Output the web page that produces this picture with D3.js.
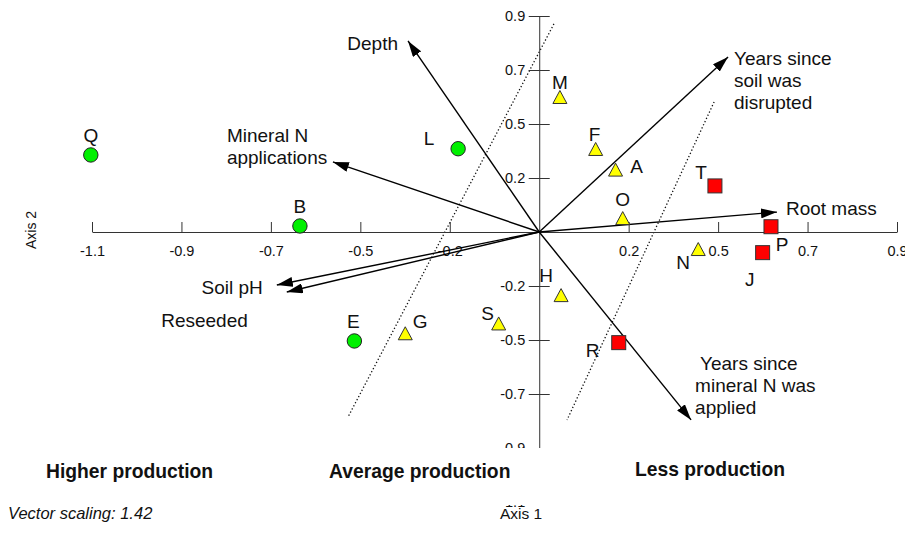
<!DOCTYPE html>
<html><head><meta charset="utf-8">
<script src="https://cdn.jsdelivr.net/npm/d3@7"></script>
<style>
body{margin:0;background:#fff}
svg{display:block}
text{font-family:"Liberation Sans",Arial,Helvetica,sans-serif;fill:#111}
</style>
</head><body>
<svg id="chart" width="905" height="544"></svg>
<script>
// ---------- data ----------
const xTickValues = [-1.125, -0.9, -0.675, -0.45, -0.225, 0.225, 0.45, 0.675, 0.9];
const xTickLabels = ["-1.1", "-0.9", "-0.7", "-0.5", "-0.2", "0.2", "0.5", "0.7", "0.9"];
const yTickValues = [0.9, 0.675, 0.45, 0.225, -0.225, -0.45, -0.675, -0.9, -1.125];
const yTickLabels = ["0.9", "0.7", "0.5", "0.2", "-0.2", "-0.5", "-0.7", "-0.9", "-1.1"];

const siteNames  = ["Q", "B", "L", "E", "M", "F", "A", "O", "N", "G", "S", "H", "T", "P", "J", "R"];
const siteGroups = ["higher", "higher", "higher", "higher",
                    "average", "average", "average", "average", "average", "average", "average", "average",
                    "less", "less", "less", "less"];
const siteAxis1  = [-1.128, -0.602, -0.204, -0.465, 0.052, 0.142, 0.192, 0.210, 0.400, -0.337, -0.102, 0.055, 0.442, 0.583, 0.562, 0.200];
const siteAxis2  = [0.321, 0.025, 0.347, -0.454, 0.5625, 0.346, 0.260, 0.058, -0.071, -0.422, -0.381, -0.263, 0.192, 0.022, -0.086, -0.461];

const vectorNames = ["Depth", "Mineral N applications", "Years since soil was disrupted", "Root mass",
                     "Years since mineral N was applied", "Soil pH", "Reseeded"];
const vectorAxis1 = [-0.330, -0.519, 0.475, 0.598, 0.382, -0.660, -0.635];
const vectorAxis2 = [0.796, 0.292, 0.729, 0.083, -0.783, -0.221, -0.250];

const boundaryStart = [[0.037, 0.867], [0.440, 0.542]];
const boundaryEnd   = [[-0.481, -0.771], [0.070, -0.783]];

const zoneLabels = ["Higher production", "Average production", "Less production"];
const axisTitles = ["Axis 1", "Axis 2"];
const footNote = "Vector scaling: 1.42";

// ---------- layout ----------
const svg = d3.select("#chart");
const x = d3.scaleLinear().domain([-1.125, 0.9]).range([92, 897]);
const y = d3.scaleLinear().domain([-1.125, 0.9]).range([502, 16]);

const siteLabelOffset = {
  Q:[0,-20], B:[0,-20], L:[-29,-10], E:[-1,-20], M:[0,-15], F:[-1,-15], A:[21,-3], O:[0,-19],
  N:[-15,13], G:[15,-12], S:[-11,-10], H:[-15,-20], T:[-14,-14], P:[11,18], J:[-13,27], R:[-26,8]
};
const vectorLabelLayout = [
  {lines:["Depth"], anchor:"end", dx:-10, dy:2},
  {lines:["Mineral N","applications"], anchor:"start", dx:-106, dy:-27},
  {lines:["Years since","soil was","disrupted"], anchor:"start", dx:6, dy:1},
  {lines:["Root mass"], anchor:"start", dx:9, dy:-4},
  {lines:[" Years since","mineral N was","applied"], anchor:"start", dx:4, dy:-57},
  {lines:["Soil pH"], anchor:"end", dx:-14, dy:2},
  {lines:["Reseeded"], anchor:"end", dx:-39, dy:28}
];
const groupStyle = {
  higher:{shape:"circle", fill:"#00f000"},
  average:{shape:"triangle", fill:"#ffff00"},
  less:{shape:"square", fill:"#ff0000"}
};

// boundary dotted lines
svg.append("g").selectAll("line").data(boundaryStart).join("line")
  .attr("x1", d => x(d[0])).attr("y1", d => y(d[1]))
  .attr("x2", (d,i) => x(boundaryEnd[i][0])).attr("y2", (d,i) => y(boundaryEnd[i][1]))
  .attr("stroke", "#111").attr("stroke-width", 1.3).attr("stroke-dasharray", "1.3,2.2");

// axes
const xAxis = d3.axisBottom(x).tickValues(xTickValues)
  .tickFormat((d,i) => xTickLabels[i]).tickSizeInner(-10).tickSizeOuter(0).tickPadding(14);
const gx = svg.append("g").attr("transform", `translate(0,${y(0)})`).call(xAxis);
const yAxis = d3.axisLeft(y).tickValues(yTickValues)
  .tickFormat((d,i) => yTickLabels[i]).tickSizeInner(10.5).tickSizeOuter(0).tickPadding(3.5);
const gy = svg.append("g").attr("transform", `translate(${x(0)},0)`).call(yAxis);
gy.selectAll(".tick line").attr("x1", 10.5);
[gx, gy].forEach(g => {
  g.attr("font-size", null);
  g.select(".domain").attr("stroke", "#333");
  g.selectAll(".tick line").attr("stroke", "#333");
  g.selectAll(".tick text").attr("fill", "#111")
    .style("font-size", "14.5px")
    .style("font-family", '"Liberation Sans",Arial,sans-serif');
});

// vectors
svg.append("defs").append("marker").attr("id", "ah")
  .attr("viewBox", "0 0 16 10").attr("refX", 16).attr("refY", 5)
  .attr("markerWidth", 16).attr("markerHeight", 10)
  .attr("markerUnits", "userSpaceOnUse").attr("orient", "auto")
  .append("path").attr("d", "M0,0L16,5L0,10Z").attr("fill", "#000");
const vg = svg.append("g");
vectorNames.forEach((name, i) => {
  const tx = x(vectorAxis1[i]), ty = y(vectorAxis2[i]);
  vg.append("line").attr("x1", x(0)).attr("y1", y(0)).attr("x2", tx).attr("y2", ty)
    .attr("stroke", "#000").attr("stroke-width", 1.4).attr("marker-end", "url(#ah)");
  const L = vectorLabelLayout[i];
  const t = vg.append("text").attr("text-anchor", L.anchor).attr("font-size", 19)
    .attr("x", tx + L.dx).attr("y", ty + L.dy);
  L.lines.forEach((ln, j) => {
    t.append("tspan").attr("x", tx + L.dx).attr("y", ty + L.dy + j * 22).attr("dy", "0.35em")
      .style("white-space", "pre").text(ln);
  });
});

// sites
const sg = svg.append("g");
siteNames.forEach((name, i) => {
  const cx = x(siteAxis1[i]), cy = y(siteAxis2[i]);
  const st = groupStyle[siteGroups[i]];
  if (st.shape === "circle") {
    sg.append("circle").attr("cx", cx).attr("cy", cy).attr("r", 7.2)
      .attr("fill", st.fill).attr("stroke", "#222").attr("stroke-width", 1);
  } else if (st.shape === "square") {
    sg.append("rect").attr("x", cx - 7).attr("y", cy - 7).attr("width", 14).attr("height", 14)
      .attr("fill", st.fill).attr("stroke", "#333").attr("stroke-width", 1);
  } else {
    sg.append("path").attr("d", `M${cx},${cy - 6.5}L${cx + 7},${cy + 6.5}L${cx - 7},${cy + 6.5}Z`)
      .attr("fill", st.fill).attr("stroke", "#333").attr("stroke-width", 1);
  }
  const o = siteLabelOffset[name];
  sg.append("text").attr("x", cx + o[0]).attr("y", cy + o[1]).attr("dy", "0.35em")
    .attr("text-anchor", "middle").attr("font-size", 19).text(name);
});

// white band over bottom of vertical axis
svg.append("rect").attr("x", 0).attr("y", 448).attr("width", 905).attr("height", 57).attr("fill", "#fff");

// zone labels
const zonePos = [[46, 471], [329, 471], [635, 469]];
svg.append("g").selectAll("text").data(zoneLabels).join("text")
  .attr("x", (d,i) => zonePos[i][0]).attr("y", (d,i) => zonePos[i][1]).attr("dy", "0.35em")
  .attr("font-size", 19.3).attr("font-weight", "bold").text(d => d);

// titles
svg.append("text").attr("x", 521).attr("y", 514).attr("dy", "0.35em").attr("text-anchor", "middle")
  .attr("font-size", 15.5).text(axisTitles[0]);
svg.append("text").attr("transform", "translate(31,230) rotate(-90)").attr("dy", "0.35em")
  .attr("text-anchor", "middle").attr("font-size", 14).text(axisTitles[1]);
svg.append("text").attr("x", 8).attr("y", 513).attr("dy", "0.35em").attr("font-size", 16.5)
  .attr("font-style", "italic").text(footNote);
</script>
</body></html>
